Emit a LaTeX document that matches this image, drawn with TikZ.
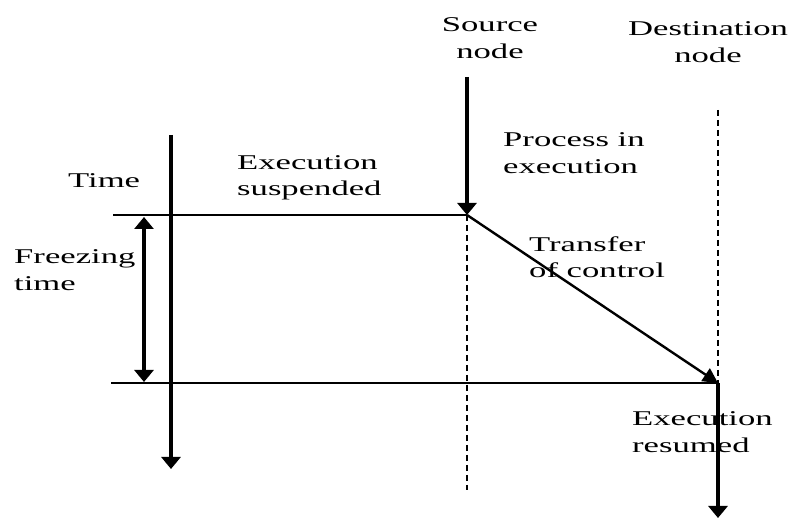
\documentclass[tikz,border=0pt]{standalone}
\usepackage{fontspec}
\setmainfont{Liberation Serif}[FakeStretch=1.65]
\usetikzlibrary{arrows.meta}
\begin{document}
\begin{tikzpicture}[x=1pt,y=-1pt,
  lbl/.style={font=\fontsize{21}{26.5}\selectfont, inner sep=0pt, align=left, anchor=west},
  clbl/.style={font=\fontsize{21}{26.5}\selectfont, inner sep=0pt, align=center},
  heavyarrow/.style={line width=3.4pt, -{Triangle[length=12pt,width=19pt]}},
  dblarrow/.style={line width=3.4pt, {Triangle[length=12pt,width=19pt]}-{Triangle[length=12pt,width=19pt]}},
  diagarrow/.style={line width=2.4pt, -{Triangle[length=15pt,width=15pt]}},
  thinline/.style={line width=1.6pt},
  dashline/.style={line width=2.8pt, dash pattern=on 6pt off 4pt}]
\useasboundingbox (0,0) rectangle (793,518);

% coordinates
\coordinate (ttop) at (171,135);
\coordinate (tbot) at (171,469);
\coordinate (s0) at (467,77);
\coordinate (s1) at (467,215);
\coordinate (s2) at (467,490);
\coordinate (d0) at (718,110);
\coordinate (d1) at (718,383);
\coordinate (d2) at (718,518);
\coordinate (h1a) at (113,215);
\coordinate (h2a) at (111,383);
\coordinate (f1) at (144,217);
\coordinate (f2) at (144,382);

% lines
\draw[thinline] (h1a) -- (s1);
\draw[thinline] (h2a) -- (d1);
\draw[dashline] (s1) -- (s2);
\draw[dashline] (d0) -- (d1);
\draw[heavyarrow] (ttop) -- (tbot);
\draw[heavyarrow] (s0) -- (s1);
\draw[heavyarrow] (d1) -- (d2);
\draw[dblarrow] (f1) -- (f2);
\draw[diagarrow] (s1) -- (d1);

% labels
\node[clbl] (src) at (490,38) {Source\\node};
\node[clbl] (dst) at (708,42) {Destination\\node};
\node[lbl] (proc) at (503,153) {Process in\\execution};
\node[lbl] (time) at (68,181) {Time};
\node[lbl] (susp) at (237,178) {Execution\\suspended};
\node[lbl] (frz) at (14,270) {Freezing\\time};
\node[lbl] (trans) at (529,257) {Transfer\\of control};
\node[lbl] (resm) at (632,432) {Execution\\resumed};
\end{tikzpicture}
\end{document}
